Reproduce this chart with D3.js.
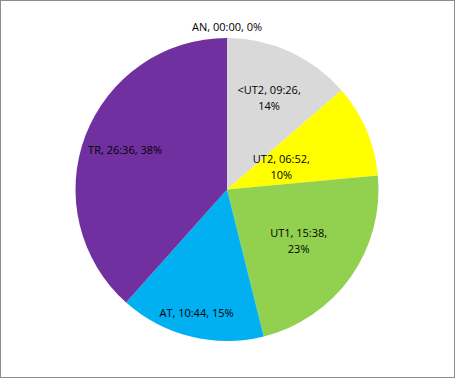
<!DOCTYPE html>
<html>
  <head>
    <meta charset="utf-8">
    <title>Pie</title>
    <script src="https://d3js.org/d3.v7.min.js"></script>
    <style>
      body { margin: 0; background: #fff; }
      text { font-family: "Open Sans", "Liberation Sans", sans-serif; font-size: 11px; fill: #000; }
    </style>
  </head>
  <body>
    <div class="chart"></div>
    <script>
      // data, clockwise from 12 o'clock
      var categories = ["AN", "<UT2", "UT2", "UT1", "AT", "TR"];
      var durations = ["00:00", "09:26", "06:52", "15:38", "10:44", "26:36"];
      var percents = ["0%", "14%", "10%", "23%", "15%", "38%"];

      var colors = ["#A5A5A5", "#D9D9D9", "#FFFF00", "#92D050", "#00B0F0", "#7030A0"];
      // label distance from centre, as fraction of radius (best-fit look)
      var labelPos = [1.07, 0.67, 0.39, 0.58, 0.84, 0.72];
      var twoLines = [false, true, true, true, false, false];

      function toMinutes(s) {
        var p = s.split(":");
        return +p[0] * 60 + +p[1];
      }

      var width = 456, height = 380;
      var cx = 227, cy = 189.5, r = 151.5;

      var svg = d3.select(".chart").append("svg")
        .attr("width", width)
        .attr("height", height);

      svg.append("rect")
        .attr("x", 0.5).attr("y", 0.5)
        .attr("width", 454).attr("height", 377)
        .attr("fill", "#fff")
        .attr("stroke", "#8c8c8c");

      var rows = categories.map(function(c, i) {
        return { name: c, dur: durations[i], pct: percents[i], value: toMinutes(durations[i]), i: i };
      });

      var pie = d3.pie().sort(null).value(function(d) { return d.value; });
      var arc = d3.arc().innerRadius(0).outerRadius(r);

      var g = svg.append("g").attr("transform", "translate(" + cx + "," + cy + ")");

      var arcs = pie(rows);

      g.selectAll("path")
        .data(arcs)
        .enter().append("path")
          .attr("d", arc)
          .attr("fill", function(d) { return colors[d.data.i]; });

      var labels = g.selectAll("text")
        .data(arcs)
        .enter().append("text")
          .attr("text-anchor", "middle")
          .attr("transform", function(d) {
            var k = labelPos[d.data.i] * r;
            var a = (d.startAngle + d.endAngle) / 2;
            return "translate(" + (Math.sin(a) * k) + "," + (-Math.cos(a) * k) + ")";
          });

      labels.each(function(d) {
        var t = d3.select(this);
        var dd = d.data;
        if (twoLines[dd.i]) {
          t.append("tspan").attr("x", 0).attr("dy", "-0.3em").text(dd.name + ", " + dd.dur + ",");
          t.append("tspan").attr("x", 0).attr("dy", "1.45em").text(dd.pct);
        } else {
          t.append("tspan").attr("x", 0).attr("dy", "0.35em").text(dd.name + ", " + dd.dur + ", " + dd.pct);
        }
      });
    </script>
  </body>
</html>
